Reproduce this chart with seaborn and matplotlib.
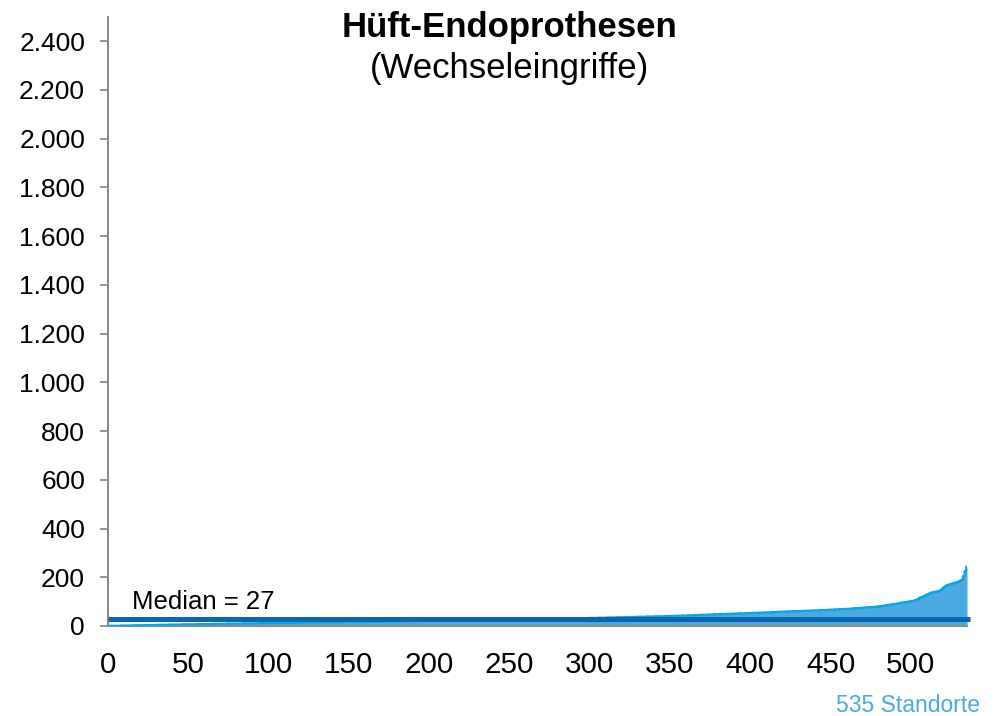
import numpy as np
import pandas as pd
import matplotlib
matplotlib.use("Agg")
import matplotlib.pyplot as plt
import seaborn as sns
from matplotlib.ticker import FuncFormatter

# Hip revision procedures per site, as a frequency table:
# caseload value -> number of sites with that caseload
caseload = (
    list(range(1, 28))
    + list(range(28, 43))
    + list(range(43, 59))
    + list(range(59, 71))
    + list(range(71, 83))
    + [83, 84, 85, 86, 87, 88, 89, 90, 91, 92, 94, 95, 96, 97, 98, 99, 100, 101, 102, 103]
    + [106, 108, 112, 116, 118, 121, 125, 128, 131, 134, 137, 138, 140, 141, 142, 144,
       148, 155, 160, 165, 168, 170, 172, 174, 176, 178, 180, 182, 186, 189, 205, 225, 243]
)
sites = (
    [8, 7, 7, 8, 8, 8, 9, 9, 10, 10, 10] + [11] * 11 + [10, 10, 10, 10] + [14]
    + [6] * 13 + [5, 5]
    + [4] * 14 + [3, 3]
    + [4] * 6 + [3] * 6
    + [2] * 9 + [1, 1, 1]
    + [1] * 20
    + [1] * 33
)

median_value = 27
n_sites = 535
title = "Hüft-Endoprothesen"
subtitle = "(Wechseleingriffe)"
x_ticks = list(range(0, 501, 50))
y_ticks = list(range(0, 2401, 200))

values = np.repeat(caseload, sites)
df = pd.DataFrame({"rank": np.arange(1, len(values) + 1), "cases": values})

sns.set_theme(style="white")
plt.rcParams["font.family"] = ["Liberation Sans", "DejaVu Sans"]
plt.rcParams["text.color"] = "black"

fig = plt.figure(figsize=(10, 7.16), dpi=100)
ax = fig.add_axes([0.108, 0.1257, 0.859, 0.851])

area_fill = "#4BAAE1"
area_edge = "#05A5E6"
median_col = "#0967B1"
axis_col = "#8C8C8C"

ax.fill_between(df["rank"], 0, df["cases"], color=area_fill, linewidth=0, zorder=2)
sns.lineplot(data=df, x="rank", y="cases", ax=ax, color=area_edge, linewidth=1.6,
             zorder=3, drawstyle="steps-mid")
ax.axhline(median_value, xmin=0, xmax=1.004, color=median_col, linewidth=3.6,
           zorder=4, solid_capstyle="butt", clip_on=False)
ax.text(15, median_value + 24, f"Median = {median_value}", fontsize=18.5,
        color="black", ha="left", va="bottom")

ax.set_xlim(0, n_sites)
ax.set_ylim(0, 2500)
ax.set_xticks(x_ticks)
ax.set_yticks(y_ticks)
ax.yaxis.set_major_formatter(FuncFormatter(lambda v, p: f"{int(v):,}".replace(",", ".")))
ax.set_xlabel("")
ax.set_ylabel("")

for side in ("top", "right"):
    ax.spines[side].set_visible(False)
for side in ("left", "bottom"):
    ax.spines[side].set_color(axis_col)
    ax.spines[side].set_linewidth(1.5)
ax.tick_params(axis="y", which="major", direction="out", length=5.5, width=1.3,
               color=axis_col, labelsize=19, pad=11, left=True, labelcolor="black")
ax.tick_params(axis="x", which="major", length=0, labelsize=21.3, pad=18,
               labelcolor="black")
ax.grid(False)

fig.text(0.509, 0.961, title, fontsize=25, fontweight="bold", ha="center", va="center")
fig.text(0.509, 0.905, subtitle, fontsize=25, ha="center", va="center")
fig.text(0.98, 0.014, f"{n_sites} Standorte", fontsize=16.5, color="#4BAAE1",
         ha="right", va="center")

fig.savefig("out.png", dpi=100, facecolor="white")
